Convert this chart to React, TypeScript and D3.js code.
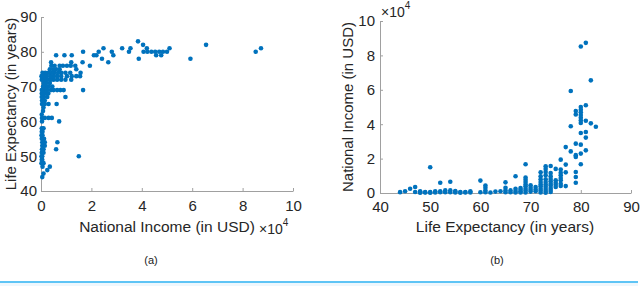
import React, { useEffect, useRef } from "react";
import * as d3 from "d3";

// life expectancy (years) and the national incomes (USD) of the countries at that age
const lifeYears = [
  44, 45, 46, 47, 48, 49, 50, 51, 52, 53, 54, 55, 56, 57, 58, 60, 61, 62, 63, 64, 65, 66, 67,
  68, 69, 70, 71, 72, 73, 74, 75, 76, 77, 78, 79, 80, 81, 82, 83,
];
const incomeByYear = [
  [500],
  [1000],
  [2500],
  [3500, 600],
  [1000, 500, 200],
  [500, 300],
  [15000, 500, 200],
  [1000, 300],
  [6000, 1000, 400],
  [500, 1500],
  [6500, 1500, 500],
  [1200, 300, 700],
  [600, 200],
  [600, 300],
  [1000, 300],
  [7200, 400],
  [4300, 3000, 1500, 400],
  [300],
  [800],
  [1000],
  [6200, 3000, 1500, 400],
  [1500, 400],
  [9700, 2500, 1200, 300],
  [2900, 1900, 1000, 300],
  [16700, 9000, 7700, 6400, 5000, 3900, 2500, 1400, 300],
  [4500, 3100, 1900, 800],
  [3500, 2100, 1000],
  [12000, 9700, 8000, 6400, 5000, 3900, 2500, 1400, 300],
  [15500, 14000, 12200, 10300, 8000, 6400, 5000, 3700, 2300, 1200, 200],
  [15700, 11600, 9700, 8100, 6800, 5400, 4300, 2900, 1700, 600],
  [14000, 7400, 6000, 4800, 3500],
  [19400, 13600, 11800, 10300, 8700, 7400, 5400, 4100],
  [26700, 16500, 12000, 4000],
  [59300, 38800, 24200],
  [47700, 45700, 28700, 22000, 21000, 12200, 9300, 6000],
  [85200, 50000, 48400, 46900, 45300, 43800, 42200, 40700, 34900, 28100, 22900, 16700],
  [87300, 51000, 42000, 35500, 32200, 24800],
  [65500, 40500],
  [38500],
];

const incomeTicks = [0, 20000, 40000, 60000, 80000, 100000];
const lifeTicks = [40, 50, 60, 70, 80, 90];

const points = lifeYears.flatMap((year, i) =>
  incomeByYear[i].map((income) => ({ life: year, income }))
);

const FONT = "'Liberation Sans', Arial, Helvetica, sans-serif";
const BLUE = "#0072BD";
const AXIS = "#a0a0a0";
const TEXT = "#262626";

export default function App() {
  const ref = useRef<SVGSVGElement>(null);

  useEffect(() => {
    const svg = d3.select(ref.current);
    svg.selectAll("*").remove();

    const fmtIncome = (d: any) => String(d / 10000);

    const styleAxis = (g: any, fontSize = 15) => {
      g.select(".domain").attr("stroke", AXIS);
      g.selectAll(".tick line").attr("stroke", AXIS);
      g.selectAll(".tick text")
        .attr("fill", TEXT)
        .style("font-family", FONT)
        .style("font-size", fontSize + "px");
    };

    const drawPlot = (
      xScale: any,
      yScale: any,
      xTicks: number[],
      yTicks: number[],
      xFmt: any,
      yFmt: any,
      xValue: (d: any) => number,
      yValue: (d: any) => number,
      xPad: number,
      yPad: number
    ) => {
      const g = svg.append("g");
      const [x0] = xScale.range();
      const [y0] = yScale.range();

      const xAxis = d3
        .axisBottom(xScale)
        .tickValues(xTicks)
        .tickFormat(xFmt)
        .tickSizeInner(-3)
        .tickSizeOuter(0)
        .tickPadding(xPad);
      const xAxisG = g.append("g").attr("transform", `translate(0,${y0})`).call(xAxis);
      styleAxis(xAxisG);

      const yAxis = d3
        .axisLeft(yScale)
        .tickValues(yTicks)
        .tickFormat(yFmt)
        .tickSizeInner(-3)
        .tickSizeOuter(0)
        .tickPadding(yPad);
      const yAxisG = g.append("g").attr("transform", `translate(${x0},0)`).call(yAxis);
      styleAxis(yAxisG);

      g.selectAll("circle.pt")
        .data(points)
        .enter()
        .append("circle")
        .attr("class", "pt")
        .attr("cx", (d) => xScale(xValue(d)))
        .attr("cy", (d) => yScale(yValue(d)))
        .attr("r", 2.3)
        .attr("fill", BLUE);
      return g;
    };

    // (a) income vs life expectancy
    const xA = d3.scaleLinear().domain([0, 100000]).range([41, 293]);
    const yA = d3.scaleLinear().domain([40, 90]).range([191, 17]);
    const gA = drawPlot(
      xA,
      yA,
      incomeTicks,
      lifeTicks,
      fmtIncome,
      (d: any) => String(d),
      (d) => d.income,
      (d) => d.life,
      9,
      4
    );
    gA.append("text")
      .attr("x", 167)
      .attr("y", 232)
      .attr("text-anchor", "middle")
      .attr("fill", TEXT)
      .style("font-family", FONT)
      .style("font-size", "15.5px")
      .text("National Income (in USD)");
    const expA = gA
      .append("text")
      .attr("x", 259)
      .attr("y", 234)
      .attr("fill", TEXT)
      .style("font-family", FONT)
      .style("font-size", "14px");
    expA.append("tspan").text("×10");
    expA.append("tspan").attr("dy", -8).style("font-size", "10px").text("4");
    gA.append("text")
      .attr("transform", `translate(16,104) rotate(-90)`)
      .attr("text-anchor", "middle")
      .attr("fill", TEXT)
      .style("font-family", FONT)
      .style("font-size", "15px")
      .text("Life Expectancy (in years)");

    // (b) life expectancy vs income
    const xB = d3.scaleLinear().domain([40, 90]).range([380, 631]);
    const yB = d3.scaleLinear().domain([0, 100000]).range([193, 21]);
    const gB = drawPlot(
      xB,
      yB,
      lifeTicks,
      incomeTicks,
      (d: any) => String(d),
      fmtIncome,
      (d) => d.life,
      (d) => d.income,
      8,
      5
    );
    gB.append("text")
      .attr("x", 505)
      .attr("y", 232)
      .attr("text-anchor", "middle")
      .attr("fill", TEXT)
      .style("font-family", FONT)
      .style("font-size", "15.5px")
      .text("Life Expectancy (in years)");
    const expB = gB
      .append("text")
      .attr("x", 381)
      .attr("y", 17)
      .attr("fill", TEXT)
      .style("font-family", FONT)
      .style("font-size", "14px");
    expB.append("tspan").text("×10");
    expB.append("tspan").attr("dy", -8).style("font-size", "10px").text("4");
    gB.append("text")
      .attr("transform", `translate(353,107) rotate(-90)`)
      .attr("text-anchor", "middle")
      .attr("fill", TEXT)
      .style("font-family", FONT)
      .style("font-size", "15px")
      .text("National Income (in USD)");

    // captions
    [
      { label: "(a)", x: 151 },
      { label: "(b)", x: 497 },
    ].forEach((c) => {
      svg
        .append("text")
        .attr("x", c.x)
        .attr("y", 264)
        .attr("text-anchor", "middle")
        .attr("fill", "#222")
        .style("font-family", FONT)
        .style("font-size", "11px")
        .text(c.label);
    });

    // bottom rule
    svg.append("rect").attr("x", 0).attr("y", 283).attr("width", 638).attr("height", 3).attr("fill", "#eef7fd");
    svg.append("rect").attr("x", 0).attr("y", 281).attr("width", 638).attr("height", 2).attr("fill", "#5ec4f5");
  }, []);

  return (
    <svg
      ref={ref}
      width={640}
      height={286}
      style={{ position: "absolute", left: 0, top: 0, background: "#fff" }}
    />
  );
}
